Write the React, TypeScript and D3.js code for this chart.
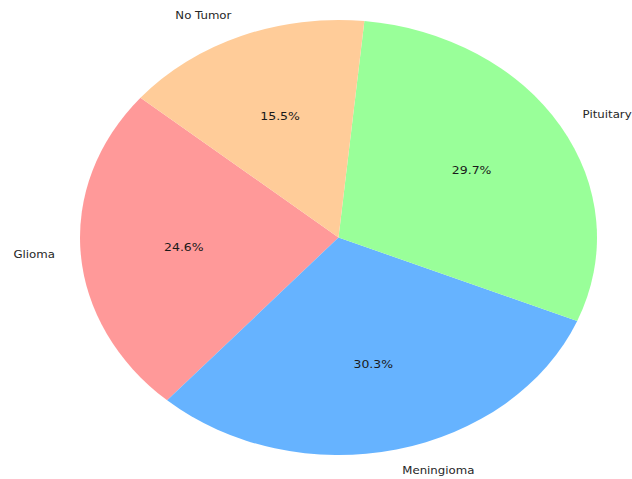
import React from "react";
import * as d3 from "d3";

const categories = ["Glioma", "Meningioma", "Pituitary", "No Tumor"];
const percentages = [24.6, 30.3, 29.7, 15.5];
const sliceColors = ["#ff9999", "#66b3ff", "#99ff99", "#ffcc99"];

const W = 632;
const H = 479;
const CX = 338.5;
const CY = 237.5;
const RX = 258.5;
const RY = 217.5;
const SX = RX / RY;
const START_DEG = 140; // matplotlib startangle, counter-clockwise

export default function App() {
  const startD3 = ((90 - START_DEG) * Math.PI) / 180;
  const pie = d3
    .pie<number>()
    .sort(null)
    .value((d) => d)
    .startAngle(startD3)
    .endAngle(startD3 - 2 * Math.PI);
  const arcs = pie(percentages);
  const arcGen = d3.arc<d3.PieArcDatum<number>>().innerRadius(0).outerRadius(RY);

  const font = "'DejaVu Sans', sans-serif";

  return (
    <svg
      width={W}
      height={H}
      style={{ position: "absolute", left: 0, top: 0, background: "#fff" }}
    >
      <g transform={`translate(${CX},${CY}) scale(${SX},1)`}>
        {arcs.map((a, i) => (
          <path key={categories[i]} d={arcGen(a) || ""} fill={sliceColors[i]} />
        ))}
      </g>
      {arcs.map((a, i) => {
        const mid = (a.startAngle + a.endAngle) / 2;
        const ux = Math.sin(mid);
        const uy = -Math.cos(mid);
        const lx = CX + 1.1 * RX * ux;
        const ly = CY + 1.1 * RY * uy;
        const px = CX + 0.6 * RX * ux;
        const py = CY + 0.6 * RY * uy;
        return (
          <g key={"t" + i}>
            <text
              transform={`translate(${lx},${ly}) scale(${SX},1)`}
              textAnchor={ux < 0 ? "end" : "start"}
              dominantBaseline="central"
              fontFamily={font}
              fontSize={9.9}
              fill="#262626"
            >
              {categories[i]}
            </text>
            <text
              transform={`translate(${px},${py}) scale(${SX},1)`}
              textAnchor="middle"
              dominantBaseline="central"
              fontFamily={font}
              fontSize={10.5}
              fill="#1a1a1a"
            >
              {percentages[i].toFixed(1) + "%"}
            </text>
          </g>
        );
      })}
    </svg>
  );
}
